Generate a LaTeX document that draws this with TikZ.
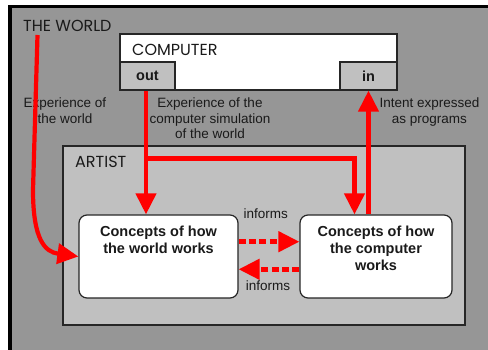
\documentclass[tikz,border=0pt]{standalone}
\usepackage{fontspec}
\setmainfont{Liberation Sans}
\newfontfamily\geo{Poppins}
\usetikzlibrary{arrows.meta}
\definecolor{outgray}{HTML}{969696}
\definecolor{lgray}{HTML}{C0C0C0}
\definecolor{edge}{HTML}{262626}
\definecolor{ink}{HTML}{1A1A1A}
\begin{document}
\begin{tikzpicture}[x=1pt,y=-1pt,
  redline/.style={draw=red, line width=4.2pt},
  redarrow/.style={redline, -{Triangle[length=21pt,width=20pt]}},
  dasharrow/.style={draw=red, line width=4.5pt, dash pattern=on 7pt off 3.4pt, -{Triangle[length=21pt,width=20pt]}},
  lbl/.style={font=\fontsize{13.5}{15.2}\selectfont, align=center, text=ink, inner sep=0pt},
  title/.style={font=\geo\fontsize{16}{18}\selectfont, text=ink, inner sep=0pt, anchor=base west},
  concept/.style={draw=edge, line width=1.2pt, fill=white, rounded corners=8pt, minimum height=83pt, inner sep=0pt},
  ctext/.style={font=\bfseries\fontsize{14.5}{16.8}\selectfont, align=center, text=ink, inner sep=0pt, anchor=north},
  port/.style={draw=edge, line width=1.2pt, fill=lgray, minimum height=28pt, inner sep=0pt, font=\bfseries\fontsize{14.5}{16}\selectfont, text=ink},
]
\useasboundingbox (0,0) rectangle (488,350);
\fill[white] (0,0) rectangle (488,350);
\fill[black] (8,5) rectangle (488,350);
\fill[outgray] (11.7,8.3) rectangle (488,350);

% world title
\node[title] (world) at (23,31.7) {THE WORLD};

% computer
\node[draw=edge, line width=1.2pt, fill=white, minimum width=277pt, minimum height=56pt, inner sep=0pt] (comp) at (258.5,62) {};
\node[title] (comptitle) at (132,56) {COMPUTER};
\node[port, minimum width=55pt] (out) at (147.5,76) {out};
\node[port, minimum width=57pt] (in) at (368.5,76) {in};

% artist
\node[draw=edge, line width=1.5pt, fill=lgray, minimum width=402pt, minimum height=179pt, inner sep=0pt] (artist) at (264,235.5) {};
\node[title] (artisttitle) at (75,167.7) {ARTIST};

% concept boxes
\node[concept, minimum width=159pt] (cw) at (158.5,256.5) {};
\node[ctext] (cwt) at (158.5,226) {Concepts of how\\the world works};
\node[concept, minimum width=152pt] (cc) at (376,256.5) {};
\node[ctext] (cct) at (376,226) {Concepts of how\\the computer\\works};

% labels
\node[lbl, anchor=north] (l1) at (65,98) {Experience of\\the world};
\node[lbl, anchor=north] (l2) at (210,98) {Experience of the\\computer simulation\\of the world};
\node[lbl, anchor=north] (l3) at (429.5,98) {Intent expressed\\as programs};
\node[lbl, anchor=base] (inf1) at (265.7,218.3) {informs};
\node[lbl, anchor=base] (inf2) at (268,290.7) {informs};

% connectors
\coordinate (ws) at (37.5,35);
\draw[redarrow] (ws) -- (33,190) .. controls (33,240) and (45,252) .. (cw.west);
\draw[redarrow] ([xshift=-1.5pt]out.south) -- ([xshift=-1.5pt]out.south |- cw.north);
\coordinate (j) at (144,158.5);
\draw[redarrow] (j) -| ([xshift=-21.5pt]cc.north);
\draw[redarrow] (in.south |- cc.north) -- (in.south);
\draw[dasharrow] ([yshift=14.8pt]cw.east) -- ([yshift=14.8pt]cc.west);
\draw[dasharrow] ([yshift=-12.8pt]cc.west) -- ([yshift=-12.8pt]cw.east);
\end{tikzpicture}
\end{document}
